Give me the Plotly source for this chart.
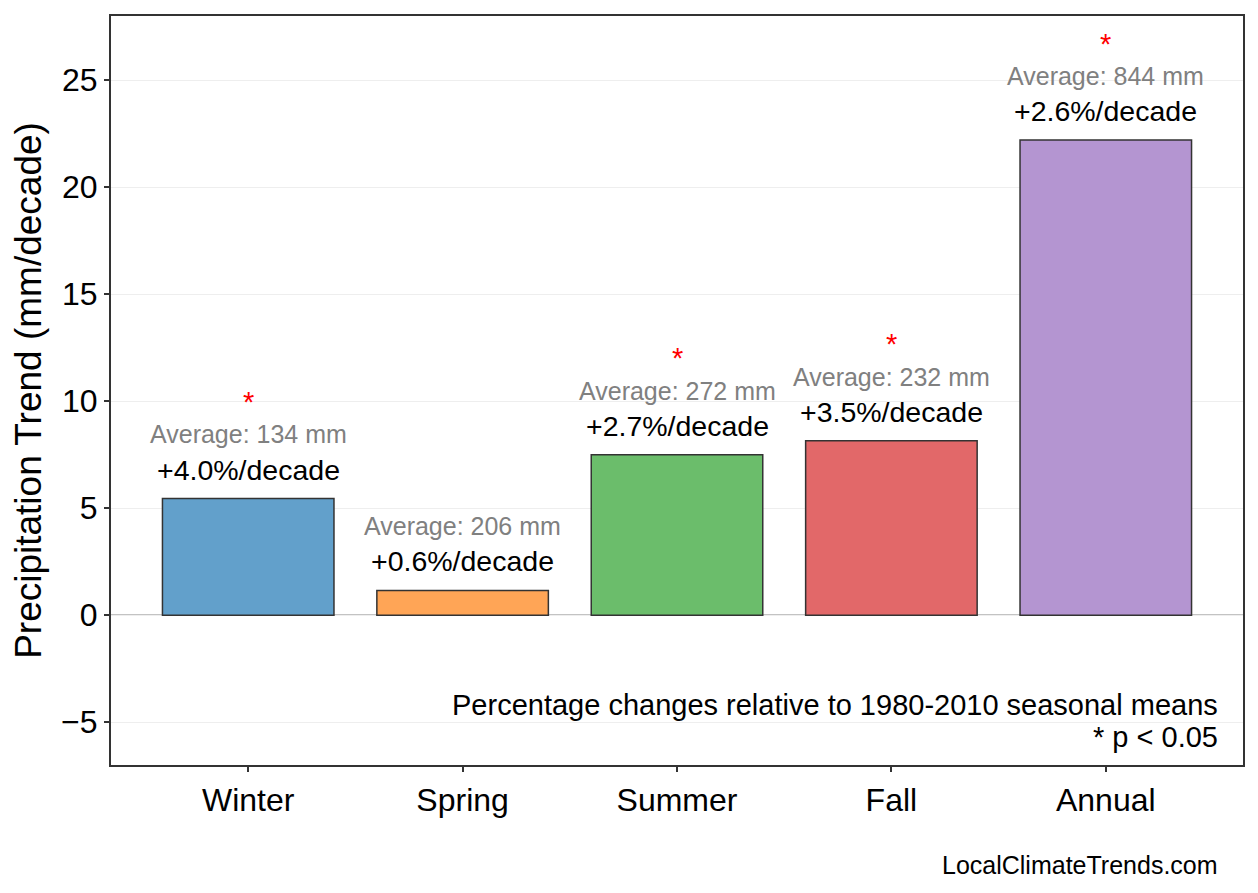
import plotly.graph_objects as go

seasons = ["Winter", "Spring", "Summer", "Fall", "Annual"]
trend_mm = [5.45, 1.16, 7.5, 8.15, 22.2]
pct_per_decade = [4.0, 0.6, 2.7, 3.5, 2.6]
average_mm = [134, 206, 272, 232, 844]
significant = [True, False, True, True, True]
bar_colors = ["#62a0cb", "#ffa556", "#6bbd6b", "#e26869", "#b495d1"]

font = "Liberation Sans, Arial, Helvetica, sans-serif"

fig = go.Figure()
fig.add_trace(go.Bar(
    x=seasons, y=trend_mm, width=0.8,
    marker=dict(color=bar_colors, line=dict(color="#333333", width=1.5)),
    showlegend=False,
))

# labels above each bar
for s, v, p, a, sig in zip(seasons, trend_mm, pct_per_decade, average_mm, significant):
    fig.add_annotation(x=s, y=v + 1.35, text="+{:.1f}%/decade".format(p), showarrow=False,
                       yanchor="middle", font=dict(size=28.5, color="black", family=font))
    fig.add_annotation(x=s, y=v + 3.0, text="Average: {} mm".format(a), showarrow=False,
                       yanchor="middle", font=dict(size=25, color="#808080", family=font))
    if sig:
        fig.add_annotation(x=s, y=v + 4.5, text="*", showarrow=False,
                           yanchor="middle", font=dict(size=29, color="red", family=font))

# footnotes inside the plot
fig.add_annotation(xref="paper", yref="paper", x=0.980, y=0.080, xanchor="right", yanchor="middle",
                   showarrow=False, text="Percentage changes relative to 1980-2010 seasonal means",
                   font=dict(size=29, color="black", family=font))
fig.add_annotation(xref="paper", yref="paper", x=0.980, y=0.037, xanchor="right", yanchor="middle",
                   showarrow=False, text="* p < 0.05",
                   font=dict(size=29, color="black", family=font))
fig.add_annotation(xref="paper", yref="paper", x=0.980, y=-0.133, xanchor="right", yanchor="middle",
                   showarrow=False, text="LocalClimateTrends.com",
                   font=dict(size=25, color="black", family=font))

fig.add_shape(type="line", xref="paper", x0=0, x1=1, y0=0, y1=0, line=dict(color="#888888", width=1.5), layer="below")

fig.update_layout(
    width=1250, height=885,
    margin=dict(l=103, r=15, t=6, b=128),
    plot_bgcolor="white", paper_bgcolor="white",
    font=dict(family=font, color="black"),
    bargap=0.2,
)
fig.update_xaxes(
    range=[-0.64, 4.64], showgrid=False, ticks="outside", ticklen=5, tickwidth=1.5, tickcolor="#333333",
    tickfont=dict(size=32), showline=True, linecolor="#333333", linewidth=2.2, mirror=True,
)
fig.update_yaxes(
    range=[-7, 28], tickvals=[-5, 0, 5, 10, 15, 20, 25], ticktext=["\u22125", "0", "5", "10", "15", "20", "25"],
    showgrid=True, gridcolor="#eeeeee", gridwidth=1, zeroline=False,
    ticks="outside", ticklen=5, tickwidth=1.5, tickcolor="#333333", tickfont=dict(size=32),
    showline=True, linecolor="#333333", linewidth=2.2, mirror=True,
    title=dict(text="Precipitation Trend (mm/decade)", font=dict(size=37), standoff=12),
)

fig.write_html("out.html")
